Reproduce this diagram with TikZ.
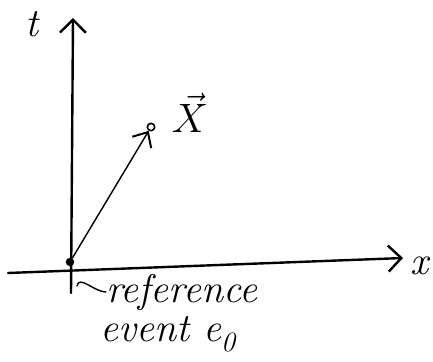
\documentclass[tikz,border=0pt]{standalone}
\usepackage{graphicx}
\usepackage{tikz}
\usetikzlibrary{arrows.meta,positioning}

\begin{document}
\begin{tikzpicture}[x=1pt,y=-1pt,
  axis/.style={line width=2.4pt,line cap=round,-{Straight Barb[length=13pt,width=26pt,line width=2.4pt]}},
  vec/.style={line width=1.4pt,-{Straight Barb[length=12pt,width=22pt,line width=2pt]}},
  lbl/.style={inner sep=0pt,font=\fontsize{40}{44}\selectfont\itshape},
  hook/.style={line width=1.4pt,line cap=round}
]
\useasboundingbox (0,0) rectangle (433,361);
\node[circle,fill,inner sep=3pt] (e0) at (70,262) {};
\node[circle,draw,line width=1.6pt,inner sep=2.6pt] (ev) at (151,127) {};
\coordinate (tfoot) at (71,293);
\coordinate (ttop) at (73,18);
\coordinate (xfoot) at (8,273);
\coordinate (xtop) at (403,258);
\draw[axis] (tfoot) -- (ttop);
\draw[axis] (xfoot) -- (xtop);
\draw[vec] (e0) -- (ev);
\node[lbl] (tlab) at (32,24) {t};
\node[lbl] (xlab) at (419,266) {x};
\node[lbl] (Xlab) at (190,113) {\scalebox{1.65}{$\vec{X}$}};
\node[lbl,anchor=west] (ref) at (106,292) {reference};
\node[lbl,anchor=north west] (evt) at (100,316) {event e\textsubscript{0}};
% hook from the event to its label
\coordinate (hk) at (77,286);
\draw[hook] (hk) to[out=80,in=180] (ref.west);
\end{tikzpicture}
\end{document}
